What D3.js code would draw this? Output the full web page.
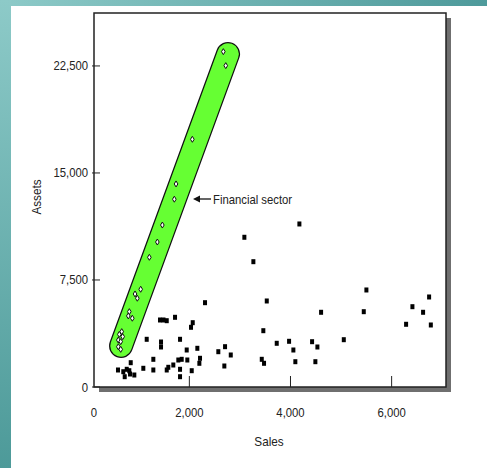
<!DOCTYPE html>
<html><head><meta charset="utf-8">
<script src="https://cdn.jsdelivr.net/npm/d3@7"></script>
<style>html,body{margin:0;padding:0;background:#fff;overflow:hidden}</style>
</head><body>
<svg id="c" width="487" height="468"></svg>
<script>
// ---- data ----
const xTicks = [0, 2000, 4000, 6000];
const yTicks = [0, 7500, 15000, 22500];
const financialSales  = [2672,2720,2059,1737,1703,1466,1367,1209,1038,926,971,813,793,872,663,615,682,595,643,595,643];
const financialAssets = [23500,22520,17360,14230,13160,11350,10160,9090,6850,6520,6220,5280,4980,4820,3880,3690,3530,3290,3180,2820,2640];
const otherSales  = [589,694,762,813,722,827,912,841,1090,1157,1288,1288,1420,1489,1553,1717,1440,1440,1553,1584,1683,1782,1849,1960,1816,1816,1816,1948,2047,2067,2033,2158,2211,2198,2310,2573,2706,2819,2692,3088,3266,3531,3463,3432,3477,3728,3972,4057,4096,4176,4605,4427,4532,4492,5054,5501,5449,6411,6741,6622,6286,6775];
const otherAssets = [1192,1072,1241,1142,722,911,841,1703,1311,3343,1941,1192,4696,4696,4647,4885,3154,2804,1192,1381,1542,1892,1941,1892,1241,722,3343,2593,1142,4507,4184,2712,2012,1661,5909,2474,2825,2243,1472,10493,8782,6028,3946,1941,1661,3063,3203,2593,1773,11425,5236,3175,2804,1773,3315,6799,5278,5628,6308,5236,4395,4346];
const bandSales  = [649, 2765];
const bandAssets = [2874, 23340];
const annotation = "Financial sector";
const xTitle = "Sales", yTitle = "Assets";

// ---- layout ----
const W = 487, H = 468;
const frame = {l: 94, t: 13, r: 446, b: 387};
const font = "'Liberation Sans',Arial,sans-serif";
const sx = 0.87; // condensed look
const svg = d3.select("#c");
const defs = svg.append("defs");
const gTop = defs.append("linearGradient").attr("id","gTop").attr("x1","0").attr("x2","1").attr("y1","0").attr("y2","0");
gTop.append("stop").attr("offset","0").attr("stop-color","#8dcac8");
gTop.append("stop").attr("offset","1").attr("stop-color","#4e9a9b");
const gLeft = defs.append("linearGradient").attr("id","gLeft").attr("x1","0").attr("x2","0").attr("y1","0").attr("y2","1");
gLeft.append("stop").attr("offset","0").attr("stop-color","#8dcac8");
gLeft.append("stop").attr("offset","1").attr("stop-color","#4d9a99");

svg.append("rect").attr("x",0).attr("y",0).attr("width",W).attr("height",H).attr("fill","#fff");
svg.append("rect").attr("x",0).attr("y",0).attr("width",W).attr("height",6).attr("fill","url(#gTop)");
svg.append("rect").attr("x",0).attr("y",0).attr("width",11).attr("height",H).attr("fill","url(#gLeft)");

const x = d3.scaleLinear().domain([0, 7075]).range([88.2, frame.r]);
const y = d3.scaleLinear().domain([0, 26210]).range([frame.b, frame.t]);
const fmt = d3.format(",");

function label(g, tx, ty, txt, anchor, size, rot) {
  return g.append("text")
    .attr("transform", `translate(${tx},${ty})` + (rot ? ` rotate(${rot})` : "") + ` scale(${sx},1)`)
    .attr("text-anchor", anchor).attr("font-family", font).attr("font-size", size)
    .attr("fill", "#222").text(txt);
}

// shadow + frame
svg.append("rect").attr("x",frame.l+5).attr("y",frame.t+5).attr("width",frame.r-frame.l).attr("height",frame.b-frame.t).attr("fill","#6f6f6f");
svg.append("rect").attr("x",frame.l).attr("y",frame.t).attr("width",frame.r-frame.l).attr("height",frame.b-frame.t).attr("fill","#fff").attr("stroke","#222").attr("stroke-width",1.5);

// ticks
svg.append("g").selectAll("line").data(xTicks.filter(d => x(d) > frame.l + 2)).join("line")
  .attr("x1",d=>x(d)).attr("x2",d=>x(d)).attr("y1",frame.b).attr("y2",frame.b-11).attr("stroke","#222").attr("stroke-width",1);
const xl = svg.append("g");
xTicks.forEach(d => label(xl, Math.max(x(d), frame.l), 417, fmt(d), "middle", 13));
svg.append("g").selectAll("line").data(yTicks).join("line")
  .attr("x1",frame.l-2).attr("x2",frame.l+6).attr("y1",d=>y(d)).attr("y2",d=>y(d)).attr("stroke","#222").attr("stroke-width",1);
const yl = svg.append("g");
yTicks.forEach(d => label(yl, 88, y(d)+4.5, fmt(d), "end", 13));

label(svg, 269, 446, xTitle, "middle", 13.5);
label(svg, 41, 197, yTitle, "middle", 13.5, -90);

// green band
const bandPts = bandSales.map((s,i)=>[x(s), y(bandAssets[i])]);
const bandLine = d3.line();
svg.append("path").attr("d",bandLine(bandPts)).attr("stroke","#111").attr("stroke-width",24).attr("stroke-linecap","round").attr("fill","none");
svg.append("path").attr("d",bandLine(bandPts)).attr("stroke","#66ff33").attr("stroke-width",21.5).attr("stroke-linecap","round").attr("fill","none");

// financial diamonds
const diamond = "M0,-3L1.8,0L0,3L-1.8,0Z";
svg.append("g").selectAll("path").data(financialSales.map((s,i)=>[s, financialAssets[i]])).join("path")
  .attr("transform",d=>`translate(${x(d[0])},${y(d[1])})`).attr("d",diamond)
  .attr("fill","#fff").attr("stroke","#111").attr("stroke-width",1);

// other squares
svg.append("g").selectAll("rect").data(otherSales.map((s,i)=>[s, otherAssets[i]])).join("rect")
  .attr("x",d=>x(d[0])-2).attr("y",d=>y(d[1])-2.5).attr("width",4).attr("height",5).attr("fill","#000");

// annotation arrow
const ay = 199;
svg.append("line").attr("x1",198).attr("x2",211).attr("y1",ay).attr("y2",ay).attr("stroke","#111").attr("stroke-width",1.3);
svg.append("path").attr("d",`M193,${ay}L200,${ay-3.5}L200,${ay+3.5}Z`).attr("fill","#111");
label(svg, 213, ay+4.5, annotation, "start", 13);
</script>
</body></html>
